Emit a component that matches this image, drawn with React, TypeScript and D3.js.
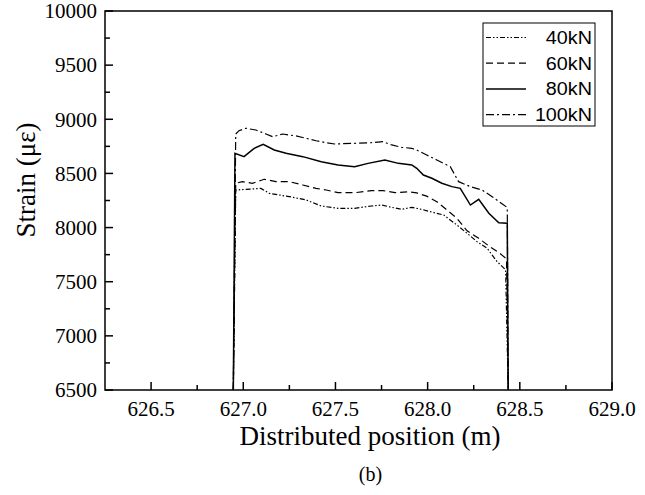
import React from "react";
import * as d3 from "d3";

const xTicks = [626.5, 627.0, 627.5, 628.0, 628.5, 629.0];
const xMinorTicks = [626.75, 627.25, 627.75, 628.25, 628.75];
const yTicks = [6500, 7000, 7500, 8000, 8500, 9000, 9500, 10000];
const yMinorTicks = [6750, 7250, 7750, 8250, 8750, 9250, 9750];

const seriesNames = ["40kN", "60kN", "80kN", "100kN"];

const edgeStart = 626.946;
const edgeEnd = 628.437;
const baseValue = 6500;

const pos40 = [626.959, 627.014, 627.095, 627.141, 627.195, 627.268, 627.341, 627.423, 627.514, 627.604, 627.695, 627.75, 627.805, 627.859, 627.914, 627.968, 628.014, 628.087, 628.159, 628.214, 628.268, 628.323, 628.377, 628.423];
const strain40 = [8347, 8353, 8362, 8316, 8301, 8280, 8255, 8199, 8178, 8178, 8199, 8208, 8187, 8168, 8187, 8168, 8147, 8116, 8024, 7947, 7870, 7808, 7685, 7610];

const pos60 = [626.959, 626.995, 627.05, 627.113, 627.177, 627.25, 627.323, 627.395, 627.45, 627.514, 627.604, 627.695, 627.759, 627.823, 627.895, 627.941, 627.995, 628.05, 628.105, 628.159, 628.214, 628.277, 628.332, 628.386, 628.428];
const strain60 = [8409, 8424, 8409, 8446, 8424, 8424, 8393, 8362, 8347, 8322, 8322, 8341, 8341, 8322, 8331, 8320, 8290, 8239, 8162, 8085, 7970, 7901, 7830, 7770, 7710];

const pos80 = [626.955, 627.004, 627.059, 627.108, 627.168, 627.232, 627.323, 627.423, 627.514, 627.604, 627.677, 627.768, 627.841, 627.914, 627.941, 627.977, 628.023, 628.077, 628.132, 628.177, 628.232, 628.277, 628.332, 628.386, 628.432];
const strain80 = [8686, 8655, 8732, 8769, 8716, 8686, 8655, 8608, 8578, 8562, 8593, 8624, 8593, 8578, 8547, 8485, 8455, 8409, 8378, 8362, 8208, 8261, 8132, 8045, 8040];

const pos100 = [626.959, 626.977, 627.014, 627.068, 627.123, 627.159, 627.214, 627.286, 627.341, 627.395, 627.45, 627.495, 627.604, 627.695, 627.759, 627.805, 627.859, 627.914, 627.941, 627.995, 628.05, 628.123, 628.168, 628.232, 628.295, 628.35, 628.405, 628.432];
const strain100 = [8864, 8895, 8917, 8901, 8864, 8839, 8864, 8846, 8824, 8802, 8784, 8772, 8778, 8784, 8793, 8763, 8741, 8732, 8716, 8670, 8624, 8562, 8424, 8378, 8347, 8285, 8218, 8185];

const dashes = ["5,2,1.5,2,1.5,2", "7,4", "", "8,3,2,3"];
const widths = [1.2, 1.2, 1.5, 1.2];

const W = 645;
const H = 495;
const L = 105, R = 612, T = 11, B = 390;

const serif = "'Liberation Serif', 'Times New Roman', Times, serif";
const sans = "'Liberation Sans', Arial, Helvetica, sans-serif";

export default function App() {
  const x = d3.scaleLinear().domain([626.25, 629.0]).range([L, R]);
  const y = d3.scaleLinear().domain([6500, 10000]).range([B, T]);

  const raw = [
    [pos40, strain40],
    [pos60, strain60],
    [pos80, strain80],
    [pos100, strain100],
  ];
  const series = raw.map(([p, s]) => {
    const pts: [number, number][] = [[edgeStart, baseValue]];
    p.forEach((v, i) => pts.push([v, s[i]]));
    pts.push([edgeEnd, baseValue]);
    return pts;
  });

  const line = d3
    .line<[number, number]>()
    .x((d) => x(d[0]))
    .y((d) => y(d[1]));

  const legX = 483, legY = 23, legW = 112, legH = 103;
  const rowH = 25.7;

  const serifStyle = { fontFamily: serif };
  const sansStyle = { fontFamily: sans };

  return (
    <svg width={W} height={H} style={{ position: "absolute", left: 0, top: 0, background: "#fff" }}>
      <defs>
        <clipPath id="plotClip">
          <rect x={L} y={T} width={R - L} height={B - T} />
        </clipPath>
      </defs>
      <rect x={0} y={0} width={W} height={H} fill="#fff" />

      <g clipPath="url(#plotClip)">
        {series.map((pts, i) => (
          <path
            key={i}
            d={line(pts) || ""}
            fill="none"
            stroke="#000"
            strokeWidth={widths[i]}
            strokeDasharray={dashes[i] || undefined}
          />
        ))}
      </g>

      {/* frame */}
      <rect x={L} y={T} width={R - L} height={B - T} fill="none" stroke="#000" strokeWidth={1.5} />

      {/* x ticks */}
      {xTicks.map((t) => (
        <g key={"xt" + t}>
          <line x1={x(t)} x2={x(t)} y1={B} y2={B - 8} stroke="#000" strokeWidth={1.5} />
          <text x={x(t)} y={416} textAnchor="middle" style={serifStyle} fontSize={21} fill="#000">
            {t.toFixed(1)}
          </text>
        </g>
      ))}
      {xMinorTicks.map((t) => (
        <line key={"xm" + t} x1={x(t)} x2={x(t)} y1={B} y2={B - 5} stroke="#000" strokeWidth={1.5} />
      ))}

      {/* y ticks */}
      {yTicks.map((t) => (
        <g key={"yt" + t}>
          <line x1={L} x2={L + 8} y1={y(t)} y2={y(t)} stroke="#000" strokeWidth={1.5} />
          <text x={97} y={y(t) + 7.3} textAnchor="end" style={serifStyle} fontSize={21} fill="#000">
            {t}
          </text>
        </g>
      ))}
      {yMinorTicks.map((t) => (
        <line key={"ym" + t} x1={L} x2={L + 5} y1={y(t)} y2={y(t)} stroke="#000" strokeWidth={1.5} />
      ))}

      {/* axis titles */}
      <text x={370} y={445} textAnchor="middle" style={serifStyle} fontSize={27} fill="#000">
        Distributed position (m)
      </text>
      <text
        transform={`translate(35,180) rotate(-90)`}
        textAnchor="middle"
        style={serifStyle}
        fontSize={27}
        fill="#000"
      >
        Strain (με)
      </text>
      <text x={370.5} y={481} textAnchor="middle" style={serifStyle} fontSize={20} fill="#000">
        (b)
      </text>

      {/* legend */}
      <rect x={legX} y={legY} width={legW} height={legH} fill="#fff" stroke="#000" strokeWidth={1} />
      {seriesNames.map((name, i) => {
        const cy = legY + 14.5 + i * rowH;
        return (
          <g key={name}>
            <line
              x1={legX + 3}
              x2={legX + 43}
              y1={cy}
              y2={cy}
              stroke="#000"
              strokeWidth={widths[i]}
              strokeDasharray={dashes[i] || undefined}
            />
            <text
              transform={`translate(${legX + 109},${cy + 6.3}) scale(1.13,1)`}
              textAnchor="end"
              style={sansStyle}
              fontSize={17.5}
              fill="#000"
            >
              {name}
            </text>
          </g>
        );
      })}
    </svg>
  );
}
